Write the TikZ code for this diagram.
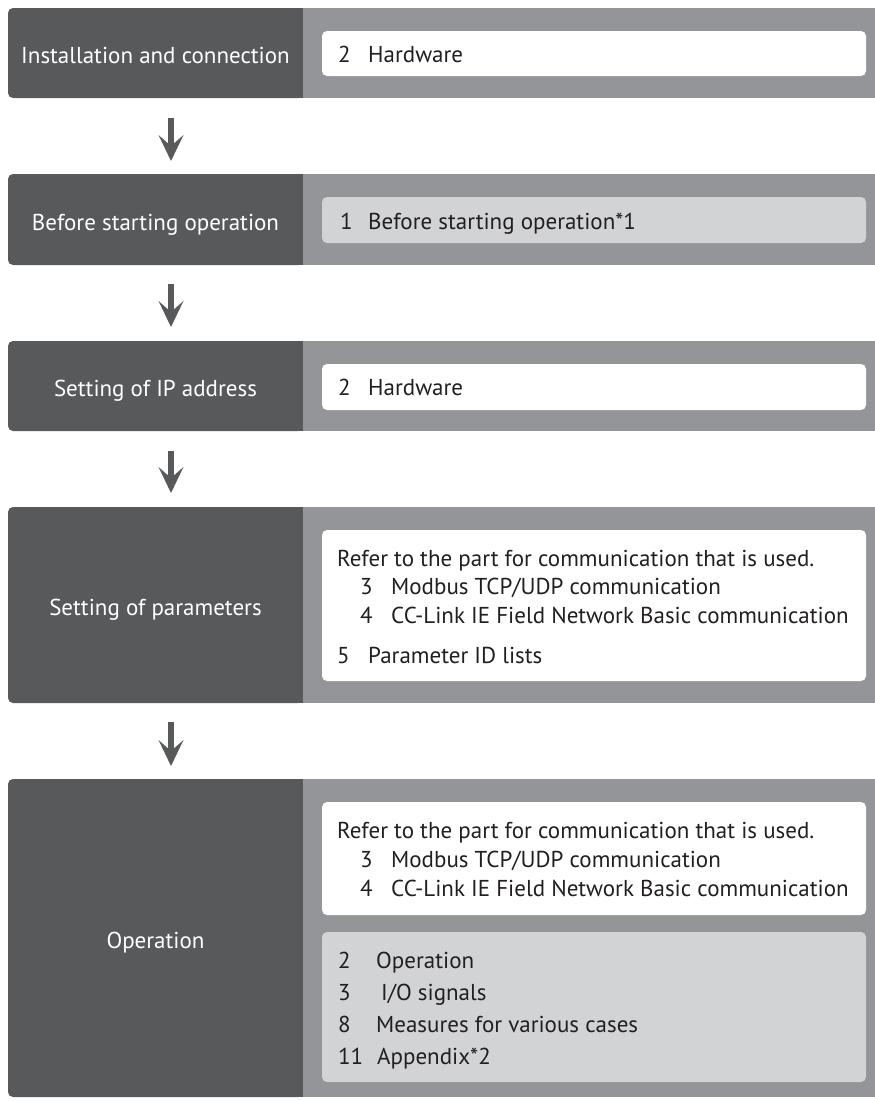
\documentclass[tikz,border=0pt]{standalone}
\usepackage{fontspec}
\setmainfont{PT Sans}
\usetikzlibrary{arrows.meta}
\definecolor{darkc}{HTML}{58595B}
\definecolor{midc}{HTML}{939598}
\definecolor{lightc}{HTML}{D1D3D4}
\definecolor{txtc}{HTML}{231F20}
\tikzset{
  titlebox/.style={fill=darkc, rounded corners=5pt, text=white, inner sep=0pt, outer sep=0pt, anchor=north west, minimum width=295pt, text height=21.5pt, text depth=0pt, font=\fontsize{23}{27}\selectfont},
  sidebar/.style={fill=midc, inner sep=0pt, outer sep=0pt, anchor=north west, minimum width=572pt},
  whitebox/.style={fill=white, rounded corners=5pt, inner sep=0pt, outer sep=0pt, anchor=north west, minimum width=544pt},
  greybox/.style={fill=lightc, rounded corners=5pt, inner sep=0pt, outer sep=0pt, anchor=north west, minimum width=544pt},
  body/.style={anchor=base west, inner sep=0pt, text=txtc, font=\fontsize{23}{27}\selectfont},
  flowarrow/.style={draw=darkc, line width=5.5pt, -{Stealth[length=26pt, width=25pt, inset=11pt, line width=0pt]}}
}
\begin{document}
\begin{tikzpicture}[x=1pt,y=-1pt]
\useasboundingbox (0,0) rectangle (875,1101);

% Block 1
\node[titlebox, minimum height=90pt] (t1) at (8,8) {Installation and connection};
\fill[darkc] ([xshift=-8pt]t1.north east) rectangle (t1.south east);
\node[sidebar, minimum height=90pt] (g1) at (303,8) {};
\node[whitebox, minimum height=45pt] (w1) at (322,31) {};
\node[body] (n1) at (338,62) {2};
\node[body] (l1) at (368,62) {Hardware};

% Block 2
\node[titlebox, minimum height=91pt] (t2) at (8,174) {Before starting operation};
\fill[darkc] ([xshift=-8pt]t2.north east) rectangle (t2.south east);
\node[sidebar, minimum height=91pt] (g2) at (303,174) {};
\node[greybox, minimum height=46pt] (w2) at (322,197) {};
\node[body] (n2) at (340,229) {1};
\node[body] (l2) at (368,229) {Before starting operation*1};

% Block 3
\node[titlebox, minimum height=90pt] (t3) at (8,341) {Setting of IP address};
\fill[darkc] ([xshift=-8pt]t3.north east) rectangle (t3.south east);
\node[sidebar, minimum height=90pt] (g3) at (303,341) {};
\node[whitebox, minimum height=46pt] (w3) at (322,364) {};
\node[body] (n3) at (338,395) {2};
\node[body] (l3) at (368,395) {Hardware};

% Block 4
\node[titlebox, minimum height=196pt] (t4) at (8,507) {Setting of parameters};
\fill[darkc] ([xshift=-8pt]t4.north east) rectangle (t4.south east);
\node[sidebar, minimum height=196pt] (g4) at (303,507) {};
\node[whitebox, minimum height=151pt] (w4) at (322,530) {};
\node[body] (r4) at (337,566) {Refer to the part for communication that is used.};
\node[body] (n4a) at (360,594) {3};
\node[body] (l4a) at (391,594) {Modbus TCP/UDP communication};
\node[body] (n4b) at (360,623) {4};
\node[body] (l4b) at (391,623) {CC-Link IE Field Network Basic communication};
\node[body] (n4c) at (337,663) {5};
\node[body] (l4c) at (368,663) {Parameter ID lists};

% Block 5
\node[titlebox, minimum height=318pt] (t5) at (8,779) {Operation};
\fill[darkc] ([xshift=-8pt]t5.north east) rectangle (t5.south east);
\node[sidebar, minimum height=318pt] (g5) at (303,779) {};
\node[whitebox, minimum height=113pt] (w5) at (322,802) {};
\node[body] (r5) at (337,838) {Refer to the part for communication that is used.};
\node[body] (n5a) at (360,867) {3};
\node[body] (l5a) at (391,867) {Modbus TCP/UDP communication};
\node[body] (n5b) at (360,896) {4};
\node[body] (l5b) at (391,896) {CC-Link IE Field Network Basic communication};
\node[greybox, minimum height=150pt] (v5) at (322,932) {};
\node[body] (m1) at (338,968) {2};
\node[body] (k1) at (376,968) {Operation};
\node[body] (m2) at (338,1000) {3};
\node[body] (k2) at (381,1000) {I/O signals};
\node[body] (m3) at (338,1032) {8};
\node[body] (k3) at (376,1032) {Measures for various cases};
\node[body] (m4) at (338,1064) {11};
\node[body] (k4) at (377,1064) {Appendix*2};

% Arrows
\draw[flowarrow] ([xshift=15.5pt,yshift=-20pt]t1.south) -- ([xshift=15.5pt,yshift=13pt]t2.north);
\draw[flowarrow] ([xshift=15.5pt,yshift=-19pt]t2.south) -- ([xshift=15.5pt,yshift=14pt]t3.north);
\draw[flowarrow] ([xshift=15.5pt,yshift=-20pt]t3.south) -- ([xshift=15.5pt,yshift=14pt]t4.north);
\draw[flowarrow] ([xshift=15.5pt,yshift=-19pt]t4.south) -- ([xshift=15.5pt,yshift=13pt]t5.north);
\end{tikzpicture}
\end{document}
